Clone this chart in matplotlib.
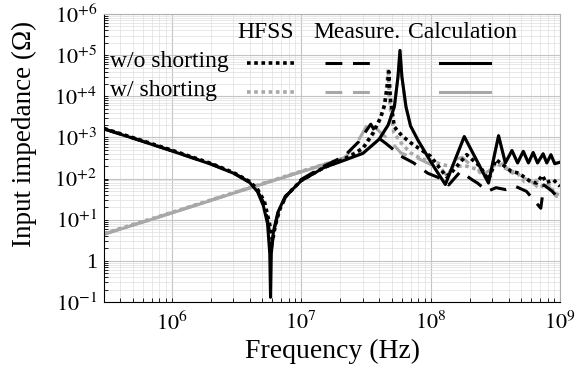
import matplotlib
matplotlib.use("Agg")
import matplotlib.pyplot as plt
from matplotlib.ticker import LogLocator, NullFormatter

plt.rcParams['font.family'] = ['Liberation Serif', 'DejaVu Serif']
plt.rcParams['mathtext.fontset'] = 'stix'

# calculation, w/o shorting (black solid)
calc_wo_f = [3e5, 5e5, 1e6, 2e6, 3e6, 4e6, 4.6e6, 5.1e6, 5.5e6, 5.72e6, 5.8e6, 5.88e6, 6.1e6, 6.6e6, 7.5e6,
             1e7, 1.5e7, 2e7, 3e7, 4e7, 4.7e7, 5.25e7, 5.6e7, 5.8e7, 6.0e7, 6.45e7, 7e7, 8e7, 1e8, 1.15e8,
             1.3e8, 1.82e8, 2.8e8, 3.35e8, 3.78e8, 4.25e8, 4.7e8, 5.2e8, 5.7e8, 6.2e8, 6.7e8, 7.4e8, 7.9e8,
             8.5e8, 9.1e8, 1e9]
calc_wo_z = [1600, 960, 470, 225, 135, 80, 48, 22, 8, 1.5, 0.13, 1.5, 5, 15, 36,
             88, 185, 255, 410, 900, 2000, 5600, 3e4, 1.3e5, 3e4, 5600, 1900, 850, 260, 130,
             72, 1050, 78, 1100, 240, 480, 240, 460, 240, 430, 240, 400, 240,
             380, 230, 250]

# calculation, w/ shorting (gray solid)
calc_w_f = [3e5, 1e6, 3e6, 1e7, 1.5e7, 2e7, 3e7, 4e7, 4.7e7, 5.25e7, 5.6e7, 5.8e7, 6.0e7, 6.45e7, 7e7, 8e7,
            1e8, 1.15e8, 1.3e8, 1.82e8, 2.8e8, 3.35e8, 3.78e8, 4.25e8, 4.7e8, 5.2e8, 5.7e8, 6.2e8, 6.7e8,
            7.4e8, 7.9e8, 8.5e8, 9.1e8, 1e9]
calc_w_z = [4.4, 14.5, 44, 145, 215, 270, 410, 900, 2000, 5600, 3e4, 1.3e5, 3e4, 5600, 1900, 850,
            260, 130, 72, 1050, 78, 1100, 240, 480, 240, 460, 240, 430, 240,
            400, 240, 380, 230, 250]

# HFSS, w/o shorting (black dotted)
hfss_wo_f = [3e5, 5e5, 1e6, 2e6, 3e6, 4e6, 4.6e6, 5.2e6, 5.7e6, 6.0e6, 6.3e6, 6.8e6, 7.6e6, 1e7, 1.5e7,
             2e7, 2.5e7, 3e7, 3.6e7, 4.1e7, 4.4e7, 4.6e7, 4.75e7, 4.9e7, 5.25e7, 6e7, 7.1e7, 1e8, 1.32e8,
             1.45e8, 1.9e8, 2.4e8, 2.8e8, 3.2e8, 4.2e8, 4.8e8, 5.9e8, 6.6e8, 7.3e8, 7.8e8, 8.9e8, 1e9]
hfss_wo_z = [1650, 990, 490, 235, 140, 85, 55, 28, 8, 3, 7, 17, 37, 90, 185,
             270, 380, 550, 1300, 3000, 6000, 1.5e4, 4e4, 8000, 1800, 1100, 720, 350, 112,
             140, 380, 200, 93, 290, 150, 135, 85, 78, 120, 80, 93, 65]

# HFSS, w/ shorting (gray dotted)
hfss_w_f = [3e5, 1e6, 3e6, 1e7, 2e7, 3e7, 3.6e7, 4.1e7, 4.4e7, 4.6e7, 4.7e7, 4.85e7, 5.2e7, 6e7, 7e7,
            8.5e7, 1.07e8, 1.3e8, 1.5e8, 1.9e8, 2.25e8, 2.65e8, 3.2e8, 4e8, 4.7e8, 5.3e8, 6.5e8, 7.5e8,
            8.3e8, 9.3e8, 1e9]
hfss_w_z = [4.6, 15, 45, 150, 290, 520, 1200, 2900, 6000, 2e4, 4.6e4, 6000, 1300, 700, 420,
            300, 250, 210, 200, 200, 170, 110, 240, 160, 135, 85, 90, 60,
            70, 38, 35]

# measurement, w/o shorting (black dashed)
meas_wo_f = [3e5, 5e5, 1e6, 2e6, 3e6, 4e6, 4.6e6, 5.2e6, 5.65e6, 5.9e6, 6.2e6, 6.7e6, 7.6e6, 1e7, 1.5e7,
             2.15e7, 2.8e7, 3.45e7, 4e7, 4.5e7, 5e7, 5.9e7, 7.4e7, 9.5e7, 1.2e8, 1.38e8, 1.7e8, 2.1e8,
             2.3e8, 2.75e8, 3.2e8, 3.8e8, 4.5e8, 5.5e8, 7.1e8, 7.5e8, 8.7e8, 1e9]
meas_wo_z = [1620, 970, 475, 228, 137, 82, 50, 24, 6, 2, 6, 16, 36, 95, 200,
             350, 800, 2100, 950, 720, 550, 350, 240, 135, 100, 70, 148, 93,
             78, 49, 60, 54, 65, 49, 19, 70, 49, 30]

# measurement, w/ shorting (gray dashed)
meas_w_f = [3e5, 1e6, 3e6, 1e7, 1.5e7, 2.2e7, 2.8e7, 3.35e7, 4.3e7, 4.8e7, 5.9e7, 6.8e7, 8e7, 1e8, 1.2e8,
            1.35e8, 1.55e8, 1.75e8, 2.1e8, 2.6e8, 3.1e8, 3.6e8, 4.2e8, 5e8, 6e8, 7e8, 8e8, 9e8, 1e9]
meas_w_z = [4.5, 14.8, 45, 148, 220, 330, 900, 2400, 1150, 870, 420, 350, 310, 220, 180,
            112, 290, 330, 200, 130, 190, 230, 140, 110, 85, 55, 70, 45, 40]

col_heads = ['HFSS', 'Measure.', 'Calculation']
row_heads = ['w/o shorting', 'w/ shorting']
x_ticks = [1e6, 1e7, 1e8, 1e9]
x_labels = ['$10^{6}$', '$10^{7}$', '$10^{8}$', '$10^{9}$']
y_ticks = [1e-1, 1, 1e1, 1e2, 1e3, 1e4, 1e5, 1e6]
y_labels = ['$10^{-1}$', '1', '$10^{+1}$', '$10^{+2}$', '$10^{+3}$', '$10^{+4}$', '$10^{+5}$', '$10^{+6}$']

GRAY = '#a8a8a8'
dot = (0, (1.0, 1.0))
dash = (0, (5.5, 3.5))

fig = plt.figure(figsize=(5.76, 3.76), dpi=100)
ax = fig.add_axes([0.1806, 0.1968, 0.7917, 0.766])

ax.plot(calc_w_f, calc_w_z, color=GRAY, lw=2.2, zorder=2)
ax.plot(meas_w_f, meas_w_z, color=GRAY, lw=2.2, ls=dash, zorder=2)
ax.plot(hfss_w_f, hfss_w_z, color=GRAY, lw=2.6, ls=dot, zorder=2)
ax.plot(meas_wo_f, meas_wo_z, color='black', lw=2.2, ls=dash, zorder=3)
ax.plot(hfss_wo_f, hfss_wo_z, color='black', lw=2.6, ls=dot, zorder=3)
ax.plot(calc_wo_f, calc_wo_z, color='black', lw=2.2, zorder=4)

ax.set_xscale('log')
ax.set_yscale('log')
ax.set_xlim(3e5, 1e9)
ax.set_ylim(1e-1, 1e6)
ax.xaxis.set_minor_locator(LogLocator(base=10, subs=range(2, 10), numticks=20))
ax.yaxis.set_minor_locator(LogLocator(base=10, subs=range(2, 10), numticks=20))
ax.xaxis.set_minor_formatter(NullFormatter())
ax.yaxis.set_minor_formatter(NullFormatter())
ax.set_xticks(x_ticks)
ax.set_xticklabels(x_labels)
ax.set_yticks(y_ticks)
ax.set_yticklabels(y_labels)
ax.tick_params(which='both', direction='in', labelsize=16, length=3, width=0.6)
ax.tick_params(axis='x', pad=7)
ax.tick_params(axis='y', pad=5)
ax.grid(which='major', color='#c4c4c4', lw=0.8)
ax.grid(which='minor', color='#dedede', lw=0.5)
ax.set_axisbelow(True)
for side in ['top', 'right']:
    ax.spines[side].set_color('#b0b0b0')

ax.set_xlabel('Frequency (Hz)', fontsize=20, labelpad=3)
ax.set_ylabel('Input impedance (Ω)', fontsize=19.5)
ax.yaxis.set_label_coords(-0.148, 0.585)

# column / row headers and line samples
head_x = [0.355, 0.554, 0.786]
for x, t in zip(head_x, col_heads):
    ax.text(x, 0.934, t, transform=ax.transAxes, ha='center', va='center', fontsize=17, zorder=6)
row_y = [0.835, 0.733]
for y, t in zip(row_y, row_heads):
    ax.text(0.013, y, t, transform=ax.transAxes, ha='left', va='center', fontsize=17, zorder=6)
sample_x = [(0.314, 0.419), (0.485, 0.601), (0.737, 0.846)]
sample_ls = [dot, dash, '-']
sample_lw = [2.6, 2.2, 2.2]
for y, c in zip(row_y, ['black', GRAY]):
    for (x0, x1), ls, lw in zip(sample_x, sample_ls, sample_lw):
        ax.plot([x0, x1], [y - 0.005, y - 0.005], transform=ax.transAxes, color=c, ls=ls, lw=lw, zorder=6)

fig.savefig('out.png', dpi=100)
